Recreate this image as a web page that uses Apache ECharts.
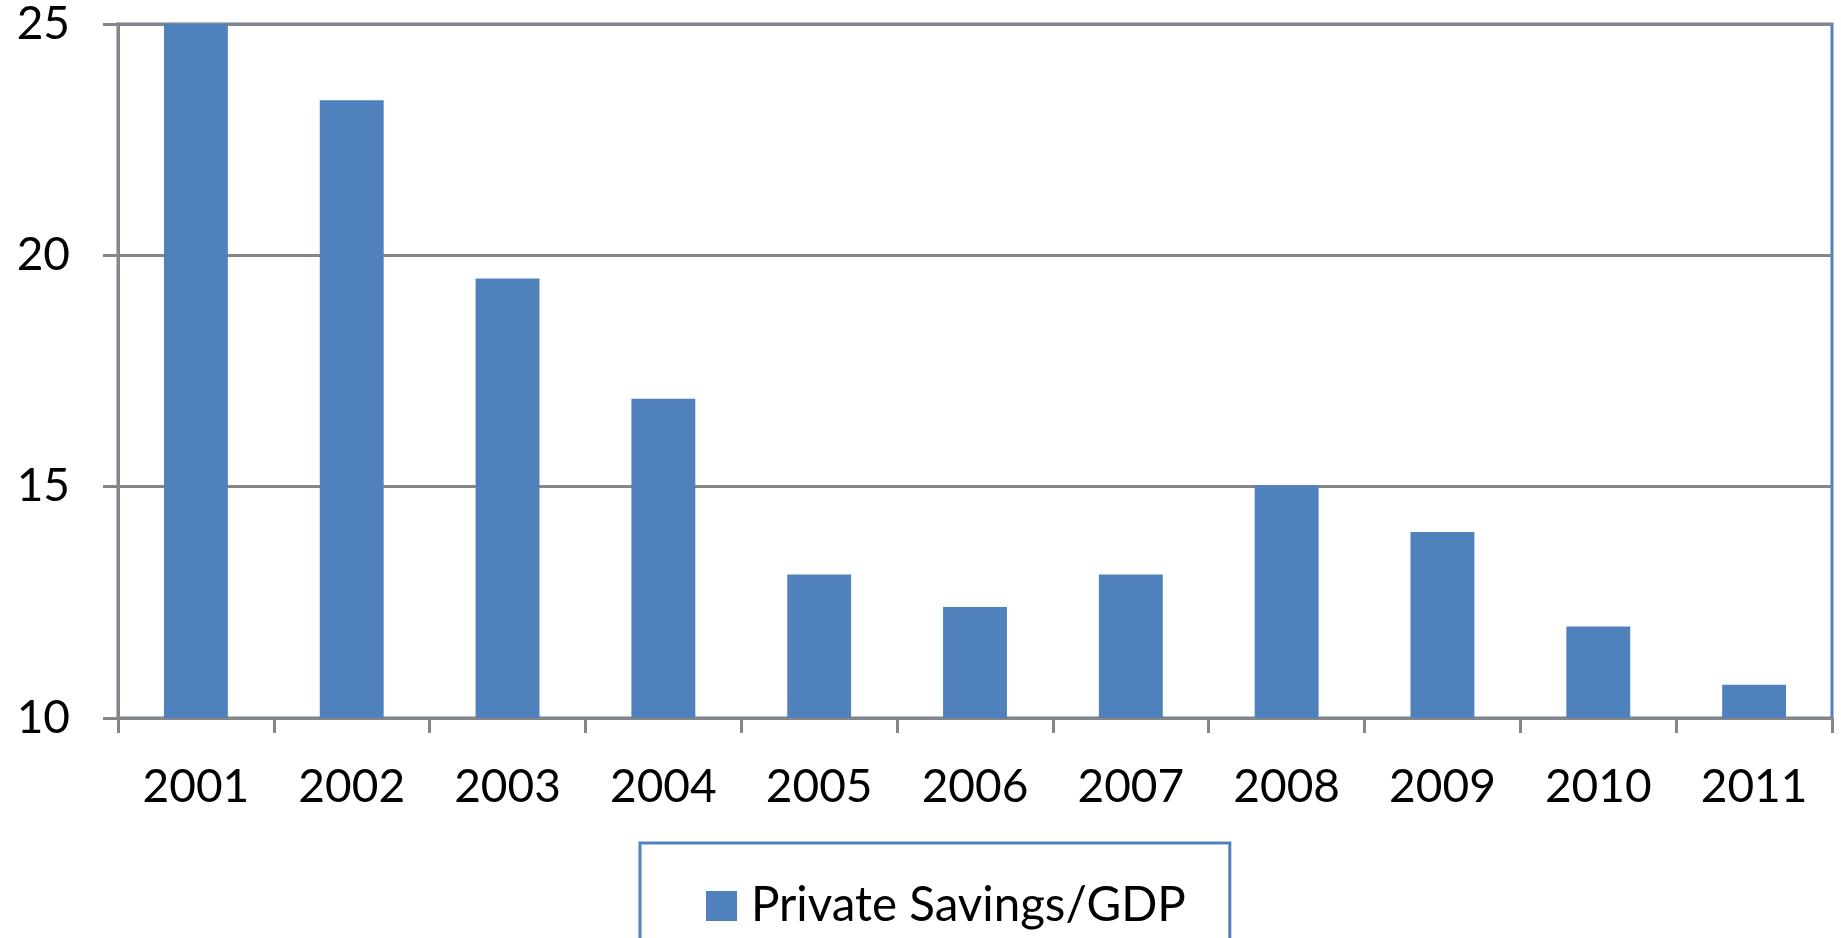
<!DOCTYPE html>
<html>
<head>
<meta charset="utf-8">
<title>Private Savings/GDP</title>
<script src="https://cdn.jsdelivr.net/npm/echarts@6/dist/echarts.min.js"></script>
<style>
  html, body { margin: 0; padding: 0; background: #ffffff; }
  #chart { width: 1841px; height: 938px; }
</style>
</head>
<body>
<div id="chart"></div>
<script>
// Private savings as a share of GDP, by year
const years = ['2001', '2002', '2003', '2004', '2005', '2006', '2007', '2008', '2009', '2010', '2011'];
const savingsShare = [25.0, 23.35, 19.5, 16.9, 13.1, 12.4, 13.1, 15.03, 14.02, 11.98, 10.72];
const seriesName = 'Private Savings/GDP';
const yTicks = { min: 10, max: 25, interval: 5 };

const barBlue = '#4F81BD';
const axisGrey = '#868686';
const fontFamily = 'Lato, "Open Sans", sans-serif';

const chart = echarts.init(document.getElementById('chart'));
chart.setOption({
  animation: false,
  backgroundColor: '#ffffff',
  grid: {
    left: 118, right: 9, top: 24, bottom: 220,
    show: true,
    borderColor: barBlue,
    borderWidth: 3,
    backgroundColor: 'transparent'
  },
  legend: {
    data: [seriesName],
    left: 640,
    top: 843,
    itemWidth: 31,
    itemHeight: 30,
    icon: 'rect',
    borderColor: barBlue,
    borderWidth: 3,
    padding: [39, 44, 60, 66],
    textStyle: { fontFamily, fontSize: 47.5, color: '#000000', padding: [0, 0, 0, 9] }
  },
  xAxis: {
    type: 'category',
    data: years,
    axisLine: { lineStyle: { color: axisGrey, width: 3 } },
    axisTick: { show: true, length: 15, lineStyle: { color: axisGrey, width: 3 } },
    axisLabel: { fontFamily, fontSize: 46, color: '#000000', margin: 46 },
    splitLine: { show: false }
  },
  yAxis: {
    type: 'value',
    min: yTicks.min,
    max: yTicks.max,
    interval: yTicks.interval,
    axisLine: { show: true, lineStyle: { color: axisGrey, width: 3 } },
    axisTick: { show: true, length: 15, lineStyle: { color: axisGrey, width: 3 } },
    axisLabel: { fontFamily, fontSize: 46, color: '#000000', margin: 48 },
    splitLine: { show: true, lineStyle: { color: axisGrey, width: 3 } }
  },
  series: [{
    name: seriesName,
    type: 'bar',
    data: savingsShare,
    barCategoryGap: '59%',
    itemStyle: { color: barBlue }
  }]
});
</script>
</body>
</html>
